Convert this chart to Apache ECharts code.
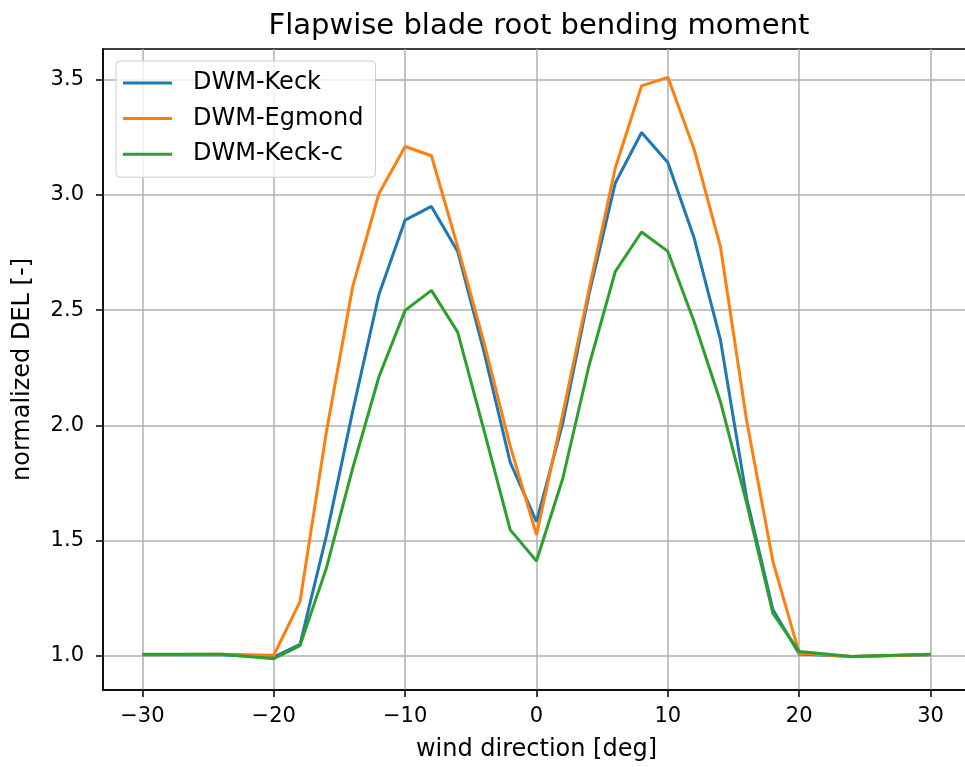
<!DOCTYPE html>
<html>
<head>
<meta charset="utf-8">
<script src="https://cdn.jsdelivr.net/npm/echarts@6/dist/echarts.min.js"></script>
<style>
  html, body { margin: 0; padding: 0; background: #fff; overflow: hidden; }
  /* the reference crops the right spine off, so the canvas runs a few px past the window */
  #chart { width: 970px; height: 767px; }
</style>
</head>
<body>
<div id="chart"></div>
<script>
// ─── Data ───────────────────────────────────────────────────────────────────

const windDir = [-30, -24, -20, -18, -16, -14, -12, -10, -8, -6, -4, -2, 0,
                 2, 4, 6, 8, 10, 12, 14, 16, 18, 20, 24, 30];

const keck = [1.005, 1.005, 0.995, 1.05, 1.52, 2.06, 2.567, 2.891, 2.95, 2.755, 2.32, 1.84, 1.583,
              2.01, 2.57, 3.052, 3.271, 3.141, 2.813, 2.372, 1.684, 1.20, 1.009, 0.998, 1.005];

const egmond = [1.005, 1.007, 1.003, 1.236, 1.97, 2.60, 3.005, 3.21, 3.17, 2.776, 2.36, 1.91, 1.525,
                2.05, 2.59, 3.117, 3.473, 3.51, 3.198, 2.776, 2.02, 1.409, 1.012, 0.998, 1.006];

const keckC = [1.007, 1.007, 0.988, 1.045, 1.38, 1.813, 2.21, 2.499, 2.586, 2.405, 1.98, 1.547, 1.412,
               1.77, 2.26, 2.668, 2.839, 2.755, 2.45, 2.104, 1.663, 1.185, 1.019, 0.998, 1.007];

const seriesNames = ['DWM-Keck', 'DWM-Egmond', 'DWM-Keck-c'];
const xTicks = [-30, -20, -10, 0, 10, 20, 30];
const yTicks = [1.0, 1.5, 2.0, 2.5, 3.0, 3.5];

// ─── Style ──────────────────────────────────────────────────────────────────

const FONT = '"DejaVu Sans", Verdana, sans-serif';
const COLORS = ['#1f77b4', '#ff7f0e', '#2ca02c'];
const pair = (ys) => windDir.map((x, i) => [x, ys[i]]);

const axisCommon = {
  type: 'value',
  axisLine: { show: true, onZero: false, lineStyle: { color: '#000', width: 1.5 } },
  axisTick: { show: true, inside: false, length: 7, lineStyle: { color: '#000', width: 1.5 } },
  splitLine: { show: true, lineStyle: { color: '#b0b0b0', width: 1.5 } },
  nameLocation: 'middle',
  nameTextStyle: { fontFamily: FONT, fontSize: 24, color: '#000' },
};

const option = {
  animation: false,
  backgroundColor: '#fff',
  color: COLORS,
  title: {
    text: 'Flapwise blade root bending moment',
    left: 534,
    top: 7,
    textAlign: 'center',
    textStyle: { fontFamily: FONT, fontSize: 29, fontWeight: 'normal', color: '#000' },
  },
  legend: {
    orient: 'vertical',
    left: 116,
    top: 61,
    padding: [10, 12, 11, 7],
    icon: 'rect',
    itemWidth: 49,
    itemHeight: 3,
    itemGap: 11.6,
    backgroundColor: 'rgba(255,255,255,0.8)',
    borderColor: '#cccccc',
    borderWidth: 1,
    borderRadius: 4,
    textStyle: { fontFamily: FONT, fontSize: 24, color: '#000', padding: [0, 0, 0, 16] },
    data: seriesNames,
  },
  grid: {
    left: 103, right: 0, top: 49, bottom: 77,
    show: true, borderColor: '#000', borderWidth: 1.5, backgroundColor: 'transparent',
  },
  xAxis: Object.assign({}, axisCommon, {
    min: -33,
    max: 33,
    name: 'wind direction [deg]',
    nameGap: 48,
    axisTick: Object.assign({}, axisCommon.axisTick, { customValues: xTicks }),
    axisLabel: {
      customValues: xTicks,
      margin: 16,
      fontFamily: FONT,
      fontSize: 21,
      color: '#000',
      formatter: (v) => String(v).replace('-', '\u2212'),
    },
  }),
  yAxis: Object.assign({}, axisCommon, {
    min: 0.8524,
    max: 3.633,
    name: 'normalized DEL [-]',
    nameGap: 68,
    nameRotate: 90,
    axisTick: Object.assign({}, axisCommon.axisTick, { customValues: yTicks }),
    axisLabel: {
      customValues: yTicks,
      margin: 19,
      fontFamily: FONT,
      fontSize: 21,
      color: '#000',
      formatter: (v) => v.toFixed(1),
    },
  }),
  series: [keck, egmond, keckC].map((ys, i) => ({
    name: seriesNames[i],
    type: 'line',
    data: pair(ys),
    symbol: 'none',
    lineStyle: { width: 3, color: COLORS[i] },
    itemStyle: { color: COLORS[i] },
  })),
};

const chart = echarts.init(document.getElementById('chart'), null, { renderer: 'canvas' });
chart.setOption(option);
</script>
</body>
</html>
